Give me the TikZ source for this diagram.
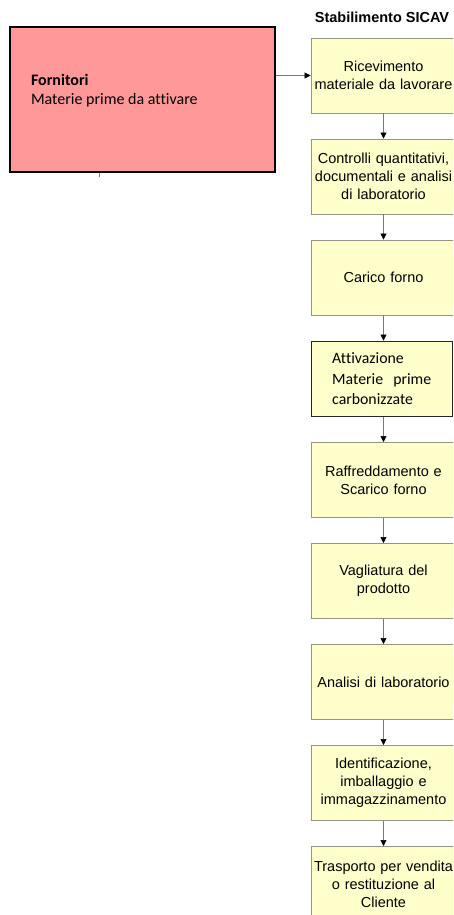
\documentclass[tikz,border=0pt]{standalone}
\usepackage{fontspec}
\setmainfont{Liberation Sans}
\newfontfamily\carlito[Ligatures=NoCommon]{Carlito}
\usetikzlibrary{arrows.meta,positioning}
\definecolor{pinkfill}{RGB}{255,153,153}
\definecolor{yellowfill}{RGB}{255,255,204}
\definecolor{boxline}{RGB}{150,150,135}
\definecolor{arrowline}{RGB}{120,120,120}

\begin{document}
\begin{tikzpicture}[x=1pt, y=1pt, node distance=25.2pt,
  supplier/.style={rectangle, draw=black, line width=2pt, fill=pinkfill, minimum width=265pt, minimum height=145pt},
  stepbox/.style={rectangle, draw=boxline, line width=0.8pt, fill=yellowfill, minimum width=145pt, minimum height=75pt, text width=139pt, inner xsep=3pt, align=center, font=\fontsize{14.5}{18}\selectfont},
  keybox/.style={rectangle, draw=black!85, line width=1.2pt, fill=yellowfill, minimum width=141pt, minimum height=75pt, text width=99pt, inner xsep=19pt, align=left, font=\carlito\fontsize{15.8}{20.5}\selectfont},
  arrow/.style={draw=arrowline, line width=0.6pt, -{Triangle[width=6pt,length=6pt,color=black]}}]

  \clip (0,0) rectangle (453,-915);

  % supplier side
  \node[supplier] (forn) at (142.5,-99.5) {};
  \node[anchor=west, align=left, font=\carlito\fontsize{16}{19}\selectfont] (forntext) at (27.5,-91) {\textbf{Fornitori}\\Materie prime da attivare};
  \coordinate (tick) at (99,-177);

  % plant side
  \node[font=\bfseries\fontsize{14.5}{18}\selectfont] (header) at (382,-17) {Stabilimento SICAV};
  \node[stepbox] (ricev) at (383.5,-75.5) {Ricevimento\\materiale da lavorare};
  \node[stepbox, below=of ricev] (controlli) {Controlli quantitativi,\\documentali e analisi\\di laboratorio};
  \node[stepbox, below=of controlli] (carico) {Carico forno};
  \node[keybox, below=of carico.south west, anchor=north west] (attiv) {Attivazione\\Materie\hfill prime\\carbonizzate};
  \node[stepbox, below=of attiv.south west, anchor=north west] (raffr) {Raffreddamento e\\Scarico forno};
  \node[stepbox, below=of raffr] (vagl) {Vagliatura del\\prodotto};
  \node[stepbox, below=of vagl] (analisi) {Analisi di laboratorio};
  \node[stepbox, below=of analisi] (ident) {Identificazione,\\imballaggio e\\immagazzinamento};
  \node[stepbox, below=of ident] (trasp) {Trasporto per vendita\\o restituzione al\\Cliente};

  \draw[arrow] (forn.east |- ricev.west) -- (ricev.west);
  \draw[arrowline, line width=0.6pt] (forn.south -| tick) -- (tick);
  \draw[arrow] (ricev) -- (controlli);
  \draw[arrow] (controlli) -- (carico);
  \draw[arrow] (carico.south) -- (attiv.north -| carico.south);
  \draw[arrow] (attiv.south -| raffr.north) -- (raffr.north);
  \draw[arrow] (raffr) -- (vagl);
  \draw[arrow] (vagl) -- (analisi);
  \draw[arrow] (analisi) -- (ident);
  \draw[arrow] (ident) -- (trasp);

\end{tikzpicture}
\end{document}
